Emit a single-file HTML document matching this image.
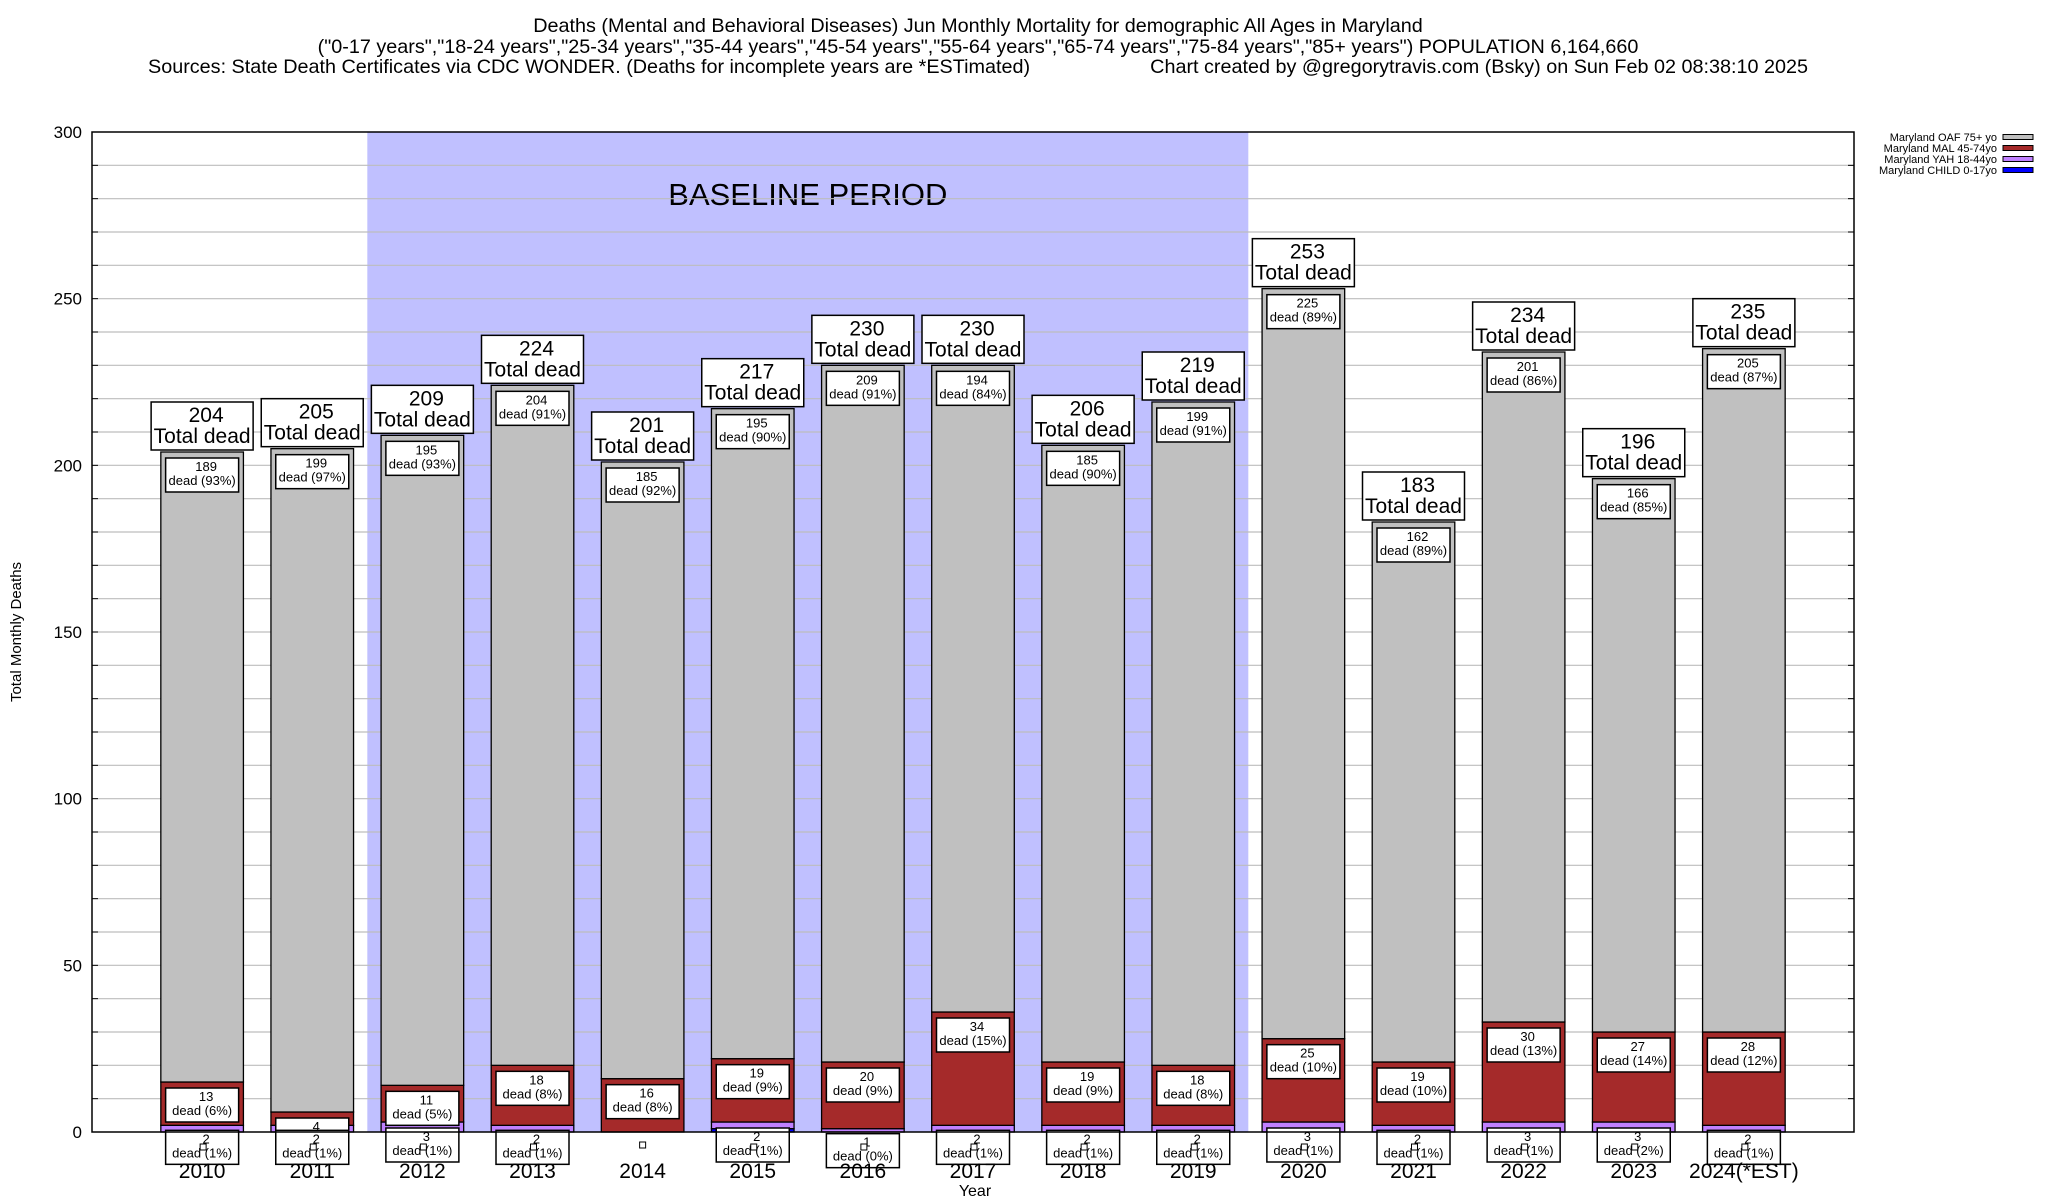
<!DOCTYPE html>
<html><head><meta charset="utf-8"><style>
html,body{margin:0;padding:0;background:#fff}
svg{display:block;font-family:"Liberation Sans",Arial,sans-serif}
</style></head><body>
<svg id="chart" width="2048" height="1200" viewBox="0 0 2048 1200">
<g>
<text x="978" y="32" font-size="19.8" text-anchor="middle">Deaths (Mental and Behavioral Diseases) Jun Monthly Mortality for demographic All Ages in Maryland</text>
<text x="978" y="53" font-size="19.8" text-anchor="middle">("0-17 years","18-24 years","25-34 years","35-44 years","45-54 years","55-64 years","65-74 years","75-84 years","85+ years") POPULATION 6,164,660</text>
<text x="148" y="73" font-size="19.8">Sources: State Death Certificates via CDC WONDER. (Deaths for incomplete years are *ESTimated)</text>
<text x="1808" y="73" font-size="19.8" text-anchor="end">Chart created by @gregorytravis.com (Bsky) on Sun Feb 02 08:38:10 2025</text>
</g>
</svg>
<script>
const years=["2010","2011","2012","2013","2014","2015","2016","2017","2018","2019","2020","2021","2022","2023","2024(*EST)"];
const child=[0,0,0,0,0,1,0,0,0,0,0,0,0,0,0];
const yah=[2,2,3,2,0,2,1,2,2,2,3,2,3,3,2];
const mal=[13,4,11,18,16,19,20,34,19,18,25,19,30,27,28];
const oaf=[189,199,195,204,185,195,209,194,185,199,225,162,201,166,205];
const yTicks=[0,50,100,150,200,250,300];
const baseline=[2.5,10.5];

const NS="http://www.w3.org/2000/svg";
const svg=document.getElementById('chart');
const L=92,R=1854,T=132,B=1132;
const xS=i=>L+(R-L)/16*i;
const yS=v=>B-(B-T)*v/300;
const bw=(R-L)/16*0.75;
function el(tag,attrs,parent){const e=document.createElementNS(NS,tag);for(const k in attrs)e.setAttribute(k,attrs[k]);(parent||svg).appendChild(e);return e;}
function txt(x,y,s,size,anchor,parent){const t=el('text',{x:x,y:y,'font-size':size,'text-anchor':anchor||'middle'},parent);t.textContent=s;return t;}

const band=el('rect',{x:xS(baseline[0]),y:T,width:xS(baseline[1])-xS(baseline[0]),height:B-T,fill:'#c0c0ff'});


const bt=txt((xS(baseline[0])+xS(baseline[1]))/2,205,'BASELINE PERIOD',31);



for(let v=10;v<300;v+=10){
 const g=el('line',{x1:L,x2:R,y1:yS(v),y2:yS(v),stroke:'#bdbdbd','stroke-width':1.2});
 
 
 el('line',{x1:L,x2:L+6,y1:yS(v),y2:yS(v),stroke:'#000'});
 el('line',{x1:R-6,x2:R,y1:yS(v),y2:yS(v),stroke:'#000'});
}
yTicks.forEach(v=>{
 const t=txt(82,yS(v)+6,String(v),17,'end');
 
 
});

function box(cx,top,lines,size,lh,w,name){
 const g=el('g',{});
 
 
 const h=lines.length*lh+6;
 el('rect',{x:cx-w/2,y:top,width:w,height:h,fill:'#fff',stroke:'#000','stroke-width':1.5},g);
 lines.forEach((s,k)=>txt(cx+(k==0?4:0),top+lh*(k+1)-1,s,size,'middle',g));
 return h;
}

years.forEach((yr,i)=>{
 const cx=xS(i+1),x0=cx-bw/2;
 const total=child[i]+yah[i]+mal[i]+oaf[i];
 const segs=[[child[i],'#0000ff','child'],[yah[i],'#c080ff','yah'],[mal[i],'#a52a2a','mal'],[oaf[i],'#c0c0c0','oaf']];
 let acc=0;
 segs.forEach(s=>{
  if(s[0]>0){
   const r=el('rect',{x:x0,y:yS(acc+s[0]),width:bw,height:yS(acc)-yS(acc+s[0]),fill:s[1],stroke:'#000','stroke-width':1.3});
   
   
  }
  acc+=s[0];
 });
 const pct=v=>Math.round(v/total*100)+'%';
 box(cx,yS(total)-50,[String(total),'Total dead'],21,21,102,'total-label-'+yr);
 box(cx,yS(total)+6,[String(oaf[i]),'dead ('+pct(oaf[i])+')'],13,14,73,'oaf-label-'+yr);
 if(mal[i]>0) box(cx,yS(child[i]+yah[i]+mal[i])+6,[String(mal[i]),'dead ('+pct(mal[i])+')'],13,14,73,'mal-label-'+yr);
 if(yah[i]>0){
  box(cx,Math.max(yS(child[i]+yah[i])+5,B-4),[String(yah[i]),'dead ('+pct(yah[i])+')'],13,14,73,'yah-label-'+yr);
  el('rect',{x:cx-2,y:B+12,width:6,height:6,fill:'#fff',stroke:'#000'});
 } else {
  el('rect',{x:cx-3,y:B+10,width:6,height:6,fill:'#fff',stroke:'#000'});
 }
 const t=txt(cx,B+46,yr,21);
 
 
});

const fr=el('rect',{x:L,y:T,width:R-L,height:B-T,fill:'none',stroke:'#000','stroke-width':1.5});



const xt=txt(975,1196,'Year',16);


const yt=el('text',{x:0,y:0,'font-size':15,'text-anchor':'middle',transform:'translate(21,632) rotate(-90)'});
yt.textContent='Total Monthly Deaths';



const leg=[['Maryland OAF 75+ yo','#c0c0c0'],['Maryland MAL 45-74yo','#a52a2a'],['Maryland YAH 18-44yo','#c080ff'],['Maryland CHILD 0-17yo','#0000ff']];
const lg=el('g',{});


leg.forEach((e,k)=>{
 const y=137+k*11;
 const g=el('g',{},lg);
 
 
 txt(1997,y+4,e[0],11,'end',g);
 el('rect',{x:2003,y:y-2.5,width:30,height:5,fill:e[1],stroke:'#000'},g);
});
</script>
</body></html>
